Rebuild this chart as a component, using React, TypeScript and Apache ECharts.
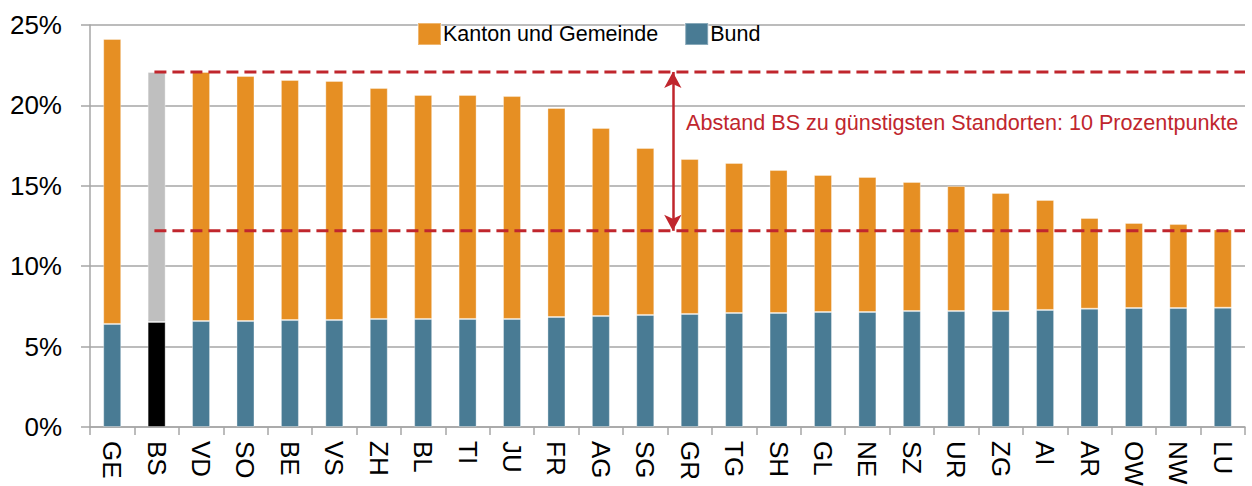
import React, { useEffect, useRef } from "react";
import * as echarts from "echarts";

const categories = ["GE","BS","VD","SO","BE","VS","ZH","BL","TI","JU","FR","AG","SG","GR","TG","SH","GL","NE","SZ","UR","ZG","AI","AR","OW","NW","LU"];
const bund = [6.41,6.53,6.59,6.59,6.65,6.65,6.72,6.72,6.72,6.72,6.84,6.9,6.97,7.03,7.09,7.09,7.15,7.15,7.21,7.21,7.21,7.28,7.36,7.4,7.4,7.42];
const kanton = [17.72,15.55,15.49,15.24,14.93,14.87,14.36,13.93,13.93,13.86,13.0,11.7,10.38,9.64,9.33,8.89,8.52,8.4,8.03,7.78,7.34,6.84,5.64,5.29,5.22,4.87];
const yTicks = [0, 5, 10, 15, 20, 25];
const upperLevel = 22.08;
const lowerLevel = 12.2;
const annotation = "Abstand BS zu günstigsten Standorten: 10 Prozentpunkte";
const highlight = "BS";

const ORANGE = "#E68F23";
const BLUE = "#497B94";
const RED = "#C0262D";
const GRAY = "#A6A6A6";
const FONT = "'Liberation Sans', Arial, sans-serif";

export default function App() {
  const ref = useRef<HTMLDivElement>(null);
  useEffect(() => {
    document.body.style.margin = "0";
    const chart = echarts.init(ref.current!, null, { renderer: "svg" });
    const hi = categories.indexOf(highlight);
    const bsX = hi + 0.45;
    const arrowX = 13.12;
    chart.setOption({
      animation: false,
      textStyle: { fontFamily: FONT },
      grid: { left: 90, right: 7, top: 25, bottom: 59, containLabel: false, outerBoundsMode: "none" },
      legend: {
        left: 412,
        top: 17,
        itemWidth: 23,
        itemHeight: 22,
        itemGap: 26,
        icon: "rect",
        data: ["Kanton und Gemeinde", "Bund"],
        textStyle: { fontSize: 21.5, color: "#000", fontFamily: FONT, padding: [2, 0, 0, -3] },
      },
      xAxis: [
        {
          type: "category",
          data: categories,
          axisLine: { lineStyle: { color: GRAY, width: 1.5 } },
          axisTick: { show: true, length: 8, lineStyle: { color: GRAY, width: 1.5 } },
          axisLabel: { rotate: -90, margin: 14, fontSize: 26, color: "#000", fontFamily: FONT },
        },
        { type: "value", min: 0, max: 26, show: false },
      ],
      yAxis: {
        type: "value",
        min: 0,
        max: 25,
        interval: 5,
        axisLine: { show: true, lineStyle: { color: GRAY, width: 1.5 } },
        axisTick: { show: true, length: 9, lineStyle: { color: GRAY, width: 1.5 } },
        splitLine: { lineStyle: { color: GRAY, width: 1.5 } },
        axisLabel: {
          margin: 28,
          fontSize: 26,
          color: "#000",
          fontFamily: FONT,
          formatter: (v: number) => (yTicks.includes(v) ? v + "%" : ""),
        },
      },
      series: [
        {
          name: "Bund",
          type: "bar",
          stack: "t",
          barWidth: 18,
          itemStyle: { color: BLUE, borderColor: "rgba(255,255,255,0.35)", borderWidth: 1 },
          data: bund.map((v, i) => (i === hi ? { value: v, itemStyle: { color: "#000" } } : v)),
        },
        {
          name: "Kanton und Gemeinde",
          type: "bar",
          stack: "t",
          barWidth: 18,
          itemStyle: { color: ORANGE, borderColor: "rgba(255,255,255,0.35)", borderWidth: 1 },
          data: kanton.map((v, i) => (i === hi ? { value: v, itemStyle: { color: "#BFBFBF" } } : v)),
        },
        {
          name: "upper",
          type: "line",
          xAxisIndex: 1,
          symbol: "none",
          silent: true,
          lineStyle: { color: RED, width: 3, type: [12, 6] },
          data: [[bsX, upperLevel], [26, upperLevel]],
          markLine: {
            silent: true,
            symbol: ["arrow", "arrow"],
            symbolSize: [13, 16],
            label: { show: false },
            lineStyle: { color: RED, width: 2.5, type: "solid" },
            data: [[{ coord: [arrowX, upperLevel] }, { coord: [arrowX, lowerLevel] }]],
          },
        },
        {
          name: "lower",
          type: "line",
          xAxisIndex: 1,
          symbol: "none",
          silent: true,
          lineStyle: { color: RED, width: 3, type: [12, 6] },
          data: [[bsX, lowerLevel], [26, lowerLevel]],
        },
      ],
      graphic: [
        {
          type: "text",
          left: 686,
          top: 111,
          style: { text: annotation, fill: RED, fontSize: 21.6, fontFamily: FONT },
        },
      ],
    });
    return () => chart.dispose();
  }, []);
  return <div ref={ref} style={{ width: 1252, height: 486 }} />;
}
